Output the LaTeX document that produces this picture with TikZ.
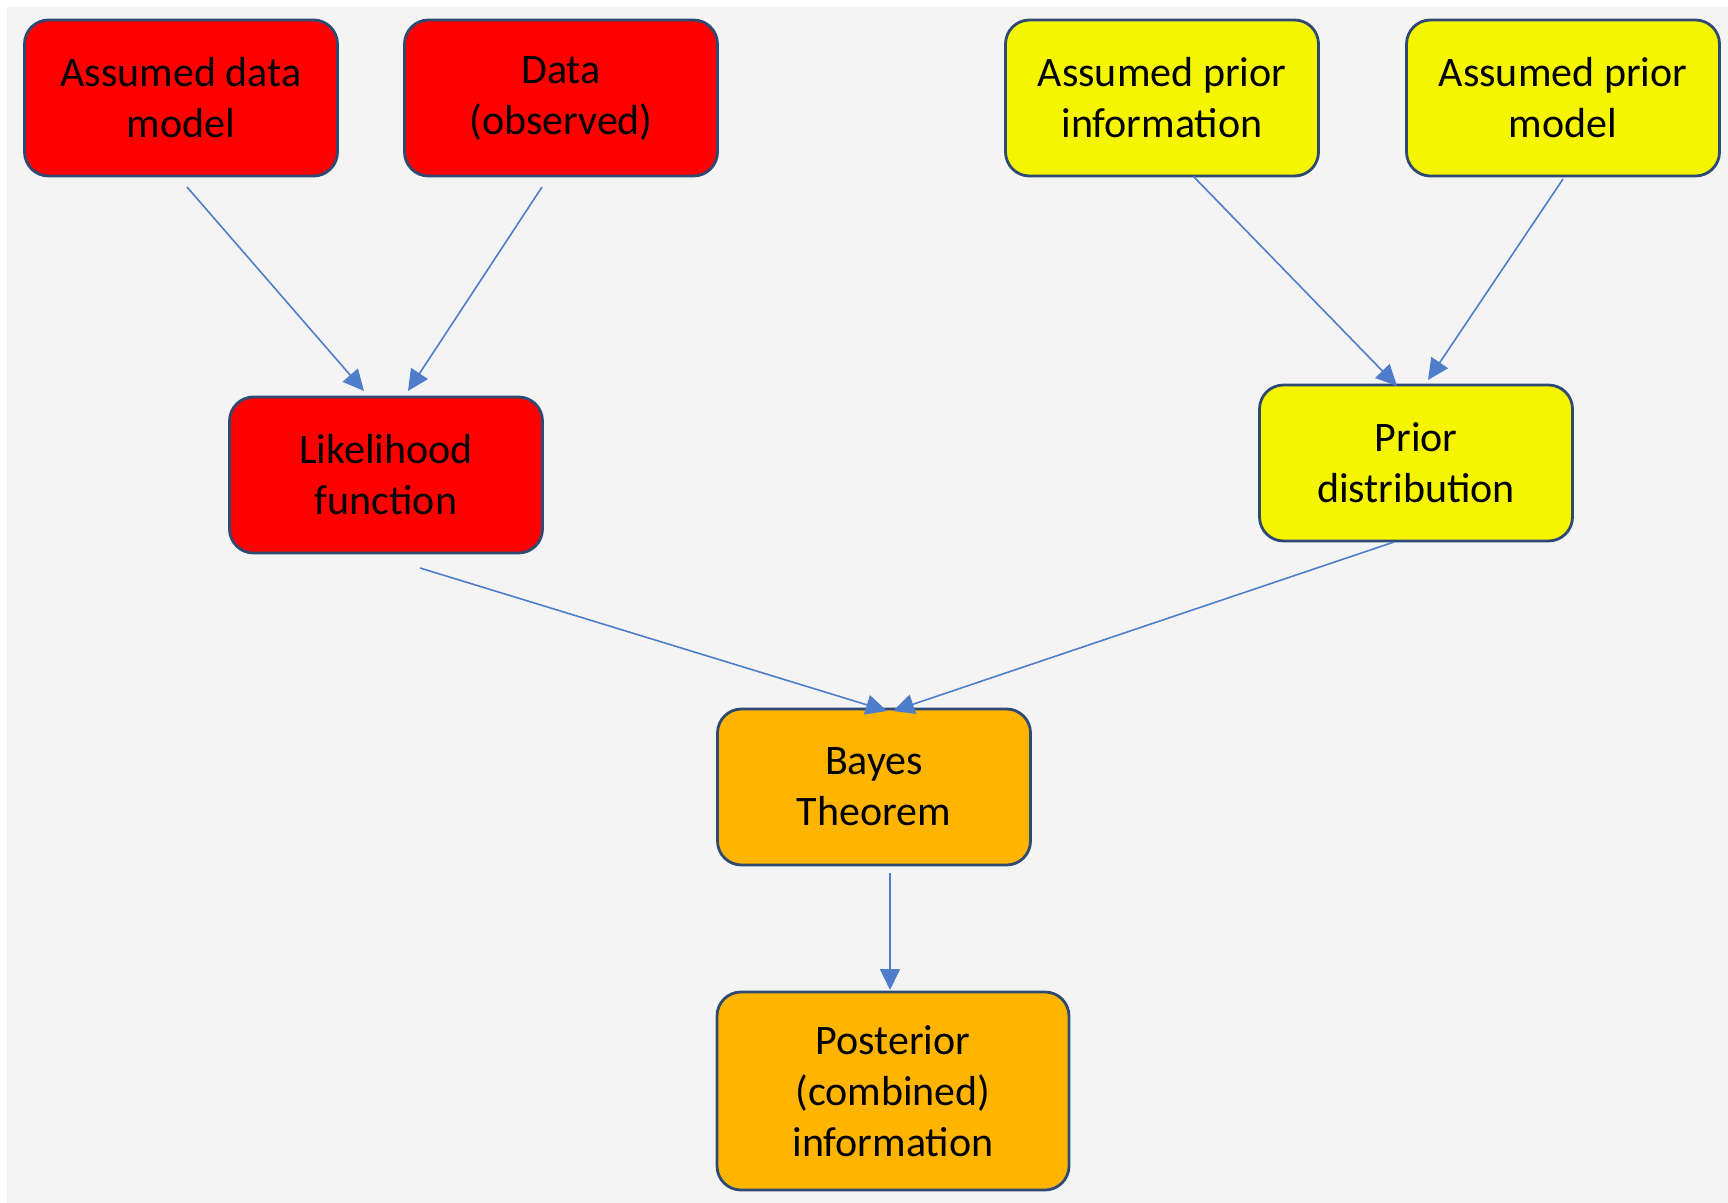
\documentclass[tikz,border=0pt]{standalone}
\usepackage{fontspec}
\setmainfont{Carlito}
\usetikzlibrary{arrows.meta}
\definecolor{bgc}{HTML}{F4F4F4}
\definecolor{redf}{HTML}{FF0000}
\definecolor{yelf}{HTML}{F5F500}
\definecolor{orgf}{HTML}{FFB500}
\definecolor{bordc}{HTML}{2E4A72}
\definecolor{arrc}{HTML}{4F7CCB}
\tikzset{
  box/.style={draw=bordc, line width=1.4pt, rounded corners=12pt, inner sep=0pt,
    minimum width=156.5pt, minimum height=78pt, align=center,
    font=\fontsize{21}{25.5}\selectfont},
  redbox/.style={box, fill=redf},
  yelbox/.style={box, fill=yelf},
  orgbox/.style={box, fill=orgf},
  conn/.style={draw=arrc, line width=0.8pt, -{Triangle[length=10.5pt,width=10pt]}}
}
\begin{document}
\begin{tikzpicture}[x=0.5pt,y=-0.5pt]
\useasboundingbox (0,0) rectangle (1728,1203);
\fill[white] (0,0) rectangle (1728,1203);
\fill[bgc] (7,7) rectangle (1728,1203);
\node[redbox] (adm) at (181,98) {Assumed data\\model};
\node[redbox] (dat) at (561,98) {Data\\(observed)};
\node[yelbox] (api) at (1162,98) {Assumed prior\\information};
\node[yelbox] (apm) at (1563,98) {Assumed prior\\model};
\node[redbox] (lf) at (386,475) {Likelihood\\function};
\node[yelbox] (pd) at (1416,463) {Prior\\distribution};
\node[orgbox] (bt) at (874,787) {Bayes\\Theorem};
\node[orgbox, minimum width=176pt, minimum height=99pt] (post) at (893,1091) {Posterior\\(combined)\\information};
\coordinate (a1s) at (187,187); \coordinate (a1e) at (364,391);
\coordinate (a2s) at (542,187); \coordinate (a2e) at (408,391);
\coordinate (a3s) at (1193,176); \coordinate (a3e) at (1397,386);
\coordinate (a4s) at (1563,179); \coordinate (a4e) at (1428,380);
\coordinate (a5s) at (420,568); \coordinate (a5e) at (887,711);
\coordinate (a6s) at (1394,542); \coordinate (a6e) at (893,711);
\coordinate (a7s) at (890,873); \coordinate (a7e) at (890,990);
\draw[conn] (a1s) -- (a1e);
\draw[conn] (a2s) -- (a2e);
\draw[conn] (a3s) -- (a3e);
\draw[conn] (a4s) -- (a4e);
\draw[conn] (a5s) -- (a5e);
\draw[conn] (a6s) -- (a6e);
\draw[conn] (a7s) -- (a7e);
\end{tikzpicture}
\end{document}
